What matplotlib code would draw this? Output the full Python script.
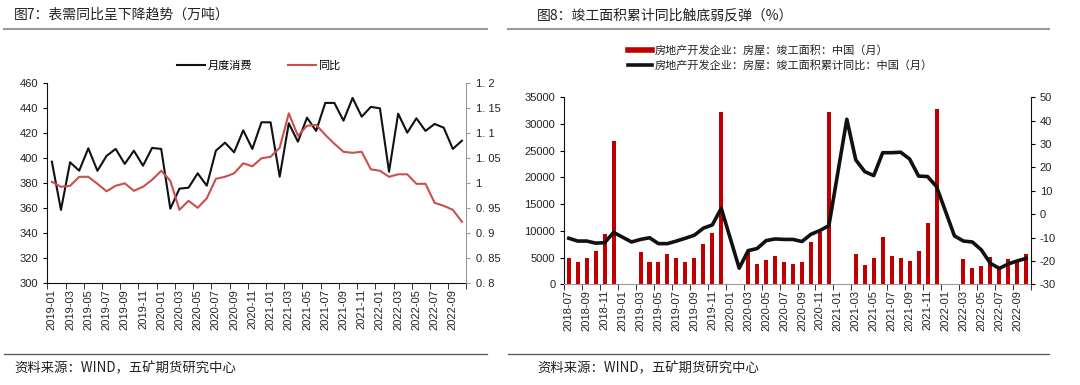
import numpy as np
import pandas as pd
import matplotlib
matplotlib.use("Agg")
import matplotlib.pyplot as plt
from matplotlib.lines import Line2D

plt.rcParams["font.family"] = ["Liberation Sans", "Noto Sans CJK SC"]
plt.rcParams["axes.unicode_minus"] = False

nan = np.nan

# ---- figure 7: apparent demand (10k t) and yoy ratio
months_l = pd.date_range("2019-01", "2022-10", freq="MS").strftime("%Y-%m").tolist()
consumption = [397.3, 358.7, 396.8, 390.1, 408.0, 390.0, 401.9, 407.5, 395.5, 406.1,
               394.1, 408.3, 407.5, 359.7, 375.7, 376.5, 388.0, 378.1, 406.1, 412.5,
               404.8, 422.4, 407.5, 428.8, 428.8, 385.3, 428.0, 413.3, 432.5, 421.9,
               444.3, 444.3, 430.1, 448.3, 433.3, 441.1, 440.0, 389.3, 435.7, 420.5,
               432.0, 421.9, 427.5, 424.5, 407.5, 414.1]
yoy_ratio = [1.003, 0.993, 0.995, 1.013, 1.013, 0.999, 0.984, 0.995, 1.000, 0.985,
             0.993, 1.007, 1.025, 1.005, 0.947, 0.965, 0.951, 0.970, 1.009, 1.013,
             1.020, 1.040, 1.034, 1.050, 1.053, 1.071, 1.140, 1.095, 1.115, 1.117,
             1.097, 1.079, 1.063, 1.061, 1.063, 1.028, 1.025, 1.013, 1.018, 1.018,
             0.999, 0.999, 0.961, 0.955, 0.947, 0.923]

# ---- figure 8: completed floor area (10k m2) and cumulative yoy (%)
months_r = pd.date_range("2018-07", "2022-10", freq="MS").strftime("%Y-%m").tolist()
completed_area = [4870, 4120, 4870, 6240, 9420, 26770,
                  nan, nan, 5990, 4120, 4120, 5620, 4870, 4240, 4990, 7490, 9610, 32260,
                  nan, nan, 5990, 3740, 4490, 5370, 4120, 3840, 4120, 7920, 9860, 32260,
                  nan, nan, 5680, 3560, 4870, 8860, 5370, 4870, 4310, 6240, 11420, 32820,
                  nan, nan, 4740, 3060, 3370, 5180, 3000, 4740, 4120, 5740]
completed_yoy = [-10.3, -11.5, -11.5, -12.4, -12.2, -7.8,
                 nan, -11.9, -10.8, -10.1, -12.6, -12.6, -11.5, -10.3, -9.0, -6.0, -4.6, 2.5,
                 nan, -23.1, -15.6, -14.7, -11.3, -10.6, -10.8, -10.8, -11.7, -8.6, -7.0, -4.9,
                 nan, 40.6, 23.2, 18.2, 16.5, 26.3, 26.3, 26.5, 23.6, 16.3, 16.1, 11.8,
                 nan, -9.3, -11.5, -11.9, -15.3, -21.0, -23.2, -21.3, -20.0, -18.9]

TITLE_L = "图7：表需同比呈下降趋势（万吨）"
TITLE_R = "图8：竣工面积累计同比触底弱反弹（%）"
SOURCE = "资料来源：WIND，五矿期货研究中心"

BLACK = "#111111"
RED_L = "#C9504D"
RED_BAR = "#C00000"
TXT = "#222222"
GREY = "#9a9a9a"


def style_category_axis(ax, labels):
    n = len(labels)
    ax.set_xlim(-0.5, n - 0.5)
    ax.set_xticks(np.arange(0, n, 2))
    ax.set_xticklabels(labels[::2], rotation=90, fontsize=8, color=TXT)
    ax.set_xticks(np.arange(-0.5, n, 2), minor=True)
    ax.tick_params(axis="x", which="major", length=0, pad=4)
    ax.tick_params(axis="x", which="minor", length=4, direction="out", color=BLACK)


fig = plt.figure(figsize=(10.8, 3.85), dpi=100)

# header / footer decorations
for x0, x1, tx, title in [(4, 487, 14, TITLE_L), (508, 1049, 537, TITLE_R)]:
    fig.add_artist(Line2D([x0 / 1080, x1 / 1080], [1 - 29 / 385] * 2, color=GREY, lw=1.5))
    fig.add_artist(Line2D([x0 / 1080, x1 / 1080], [1 - 354 / 385] * 2, color="#555555", lw=0.9))
    fig.text(tx / 1080, 1 - 15 / 385, title, fontsize=10, color=TXT, va="center",
             family=["Noto Sans CJK SC", "DejaVu Sans"])
    fig.text(tx / 1080, 1 - 368 / 385, SOURCE, fontsize=9.6, color=TXT, va="center",
             family=["Noto Sans CJK SC", "DejaVu Sans"])

# ---- left chart
ax1 = fig.add_axes([47.3 / 1080, 1 - 283.3 / 385, (466.5 - 47.3) / 1080, 200 / 385])
x_l = np.arange(len(months_l))
ax1.plot(x_l, consumption, color=BLACK, lw=1.5, zorder=3)
ax1.set_ylim(300, 460)
ax1.set_yticks(np.arange(300, 461, 20))
ax1.tick_params(axis="y", labelsize=8, labelcolor=TXT, length=3, direction="out")
style_category_axis(ax1, months_l)
for s in ["top", "right"]:
    ax1.spines[s].set_visible(False)
for s in ["left", "bottom"]:
    ax1.spines[s].set_color(BLACK)

ax1b = ax1.twinx()
ax1b.plot(x_l, yoy_ratio, color=RED_L, lw=1.5, zorder=2)
ax1b.set_ylim(0.8, 1.2)
ticks_b = np.round(np.arange(0.8, 1.2001, 0.05), 2)
ax1b.set_yticks(ticks_b)
ax1b.set_yticklabels([f"{v:g}".replace(".", ". ") for v in ticks_b])
ax1b.tick_params(axis="y", labelsize=8, labelcolor=TXT, length=3, direction="out", color=GREY)
for s in ["top", "left", "bottom"]:
    ax1b.spines[s].set_visible(False)
ax1b.spines["right"].set_color(GREY)

handles_l = [Line2D([], [], color=BLACK, lw=1.5), Line2D([], [], color=RED_L, lw=1.5)]
fig.legend(handles_l, ["月度消费", "同比"], ncol=2, frameon=False,
           loc="center", bbox_to_anchor=(259 / 1080, 1 - 66 / 385),
           handlelength=2.5, handletextpad=0.2, columnspacing=3.3, borderpad=0,
           prop={"family": ["Noto Sans CJK SC"], "size": 8})

# ---- right chart
ax2 = fig.add_axes([564.3 / 1080, 1 - 284.3 / 385, (1030.7 - 564.3) / 1080, 187 / 385])
x_r = np.arange(len(months_r))
area = np.array(completed_area, dtype=float)
ok = ~np.isnan(area)
ax2.bar(x_r[ok], area[ok], width=0.45, color=RED_BAR, zorder=2)
ax2.set_ylim(0, 35000)
ax2.set_yticks(np.arange(0, 35001, 5000))
ax2.tick_params(axis="y", labelsize=8, labelcolor=TXT, length=3, direction="out")
style_category_axis(ax2, months_r)
for s in ["top", "right"]:
    ax2.spines[s].set_visible(False)
ax2.spines["left"].set_color(BLACK)
ax2.spines["bottom"].set_color(GREY)

ax2b = ax2.twinx()
yoy = np.array(completed_yoy, dtype=float)
ok2 = ~np.isnan(yoy)
ax2b.plot(x_r[ok2], yoy[ok2], color=BLACK, lw=2.6, solid_joinstyle="round", zorder=3)
ax2b.set_ylim(-30, 50)
ax2b.set_yticks(np.arange(-30, 51, 10))
ax2b.tick_params(axis="y", labelsize=8, labelcolor=TXT, length=3, direction="out")
for s in ["top", "left", "bottom"]:
    ax2b.spines[s].set_visible(False)
ax2b.spines["right"].set_color(BLACK)

handles_r = [Line2D([], [], color=RED_BAR, lw=4), Line2D([], [], color=BLACK, lw=2.6)]
fig.legend(handles_r, ["房地产开发企业：房屋：竣工面积：中国（月）",
                       "房地产开发企业：房屋：竣工面积累计同比：中国（月）"],
           ncol=1, frameon=False, loc="upper left",
           bbox_to_anchor=(628 / 1080, 1 - 45 / 385),
           handlelength=2.2, handletextpad=0.2, labelspacing=0.35, borderpad=0,
           borderaxespad=0, prop={"family": ["Noto Sans CJK SC"], "size": 8},
           labelcolor=TXT)

fig.savefig("out.png", dpi=100, facecolor="white")
